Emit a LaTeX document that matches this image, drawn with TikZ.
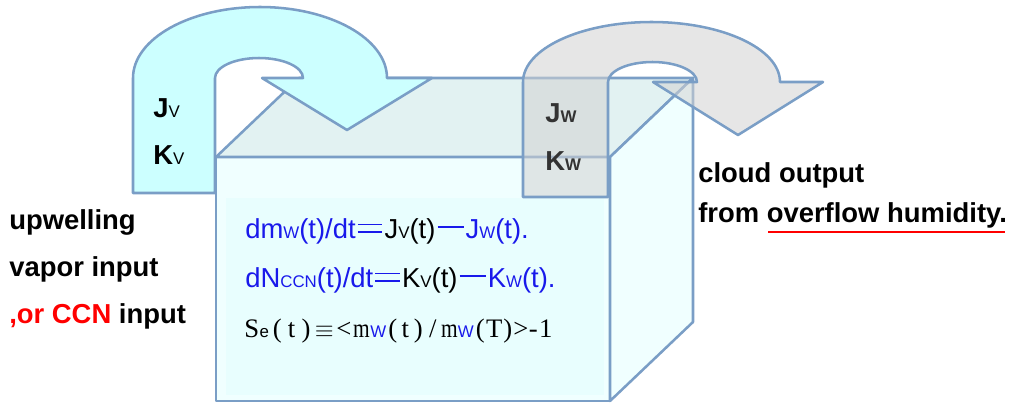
\documentclass[tikz,border=0pt]{standalone}
\usepackage{fontspec}
\usepackage{graphicx}
\setmainfont{Liberation Sans}
\newfontfamily\serifface{Liberation Serif}

\definecolor{edgeblue}{RGB}{122,158,198}
\definecolor{flowcyan}{RGB}{204,255,255}
\definecolor{flowgray}{RGB}{210,210,210}
\definecolor{topface}{RGB}{226,242,242}
\definecolor{frontface}{RGB}{240,255,255}
\definecolor{sideface}{RGB}{240,255,255}
\definecolor{textarea}{RGB}{232,254,254}
\definecolor{eqblue}{RGB}{25,25,235}

\newlength{\pxu}
\setlength{\pxu}{0.7113pt}
% small index sitting on the baseline
\newcommand{\lowsub}[1]{\raisebox{-0.6pt}{\normalfont\fontsize{12}{12}\selectfont #1}}
% wide equal and minus signs
\newcommand{\weq}{\hspace{1.5pt}\rlap{\rule[0.46em]{0.9em}{0.06em}}\rule[0.2em]{0.9em}{0.06em}\hspace{1.5pt}}
\newcommand{\wminus}{\hspace{1.5pt}\rule[0.36em]{0.95em}{0.06em}\hspace{1.5pt}}
% one fixed-width cell, and a narrow m
\newcommand{\mc}[2]{\makebox[#1\pxu][c]{#2}}
\newcommand{\thinm}{\scalebox{0.8}[1]{m}}

\begin{document}
\begin{tikzpicture}[x=0.025cm, y=-0.025cm,
    flow/.style={draw=edgeblue, line width=1.8pt, line join=round},
    face/.style={draw=edgeblue, line width=1.8pt, line join=round},
    lbl/.style={anchor=base west, inner sep=0pt, font=\fontsize{19.5}{23}\selectfont\bfseries},
    eq/.style={anchor=base west, inner sep=0pt, font=\fontsize{19.5}{23}\selectfont, text=eqblue},
  ]
  \useasboundingbox (0,0) rectangle (1016,404);

  % the box
  \draw[face, fill=frontface] (216,157) rectangle (610,401);
  \fill[textarea] (226,198) rectangle (604,395);
  \draw[face, fill=topface] (216,157) -- (299,78) -- (693,78) -- (610,157) -- cycle;
  \draw[face, fill=sideface] (610,157) -- (693,78) -- (693,322) -- (610,401) -- cycle;

  % vapor in
  \draw[flow, fill=flowcyan] (133,193) -- (133,78)
    arc[start angle=180, end angle=360, x radius=127, y radius=71]
    -- (432,78) -- (347,130) -- (262,78) -- (303,78)
    arc[start angle=0, end angle=-180, x radius=44, y radius=20]
    -- (215,193) -- cycle;

  % cloud out
  \draw[flow, fill=flowgray, fill opacity=0.55] (523,197) -- (523,82)
    arc[start angle=180, end angle=360, x radius=128.5, y radius=60]
    -- (823,82) -- (738,135) -- (653,82) -- (697,82)
    arc[start angle=0, end angle=-180, x radius=44.5, y radius=20]
    -- (608,197) -- cycle;

  \node[lbl] (jv) at (153,117) {J\lowsub{V}};
  \node[lbl] (kv) at (153,164) {K\lowsub{V}};
  \node[lbl, text=black!80] (jw) at (545,122) {J\lowsub{\bfseries W}};
  \node[lbl, text=black!80] (kw) at (545,170) {K\lowsub{\bfseries W}};

  \node[lbl] (upw) at (9,229) {upwelling};
  \node[lbl] (vapor) at (9,276) {vapor input};
  \node[lbl] (ccn) at (9,323) {\textcolor{red}{,or CCN} input};

  \node[lbl] (outa) at (698,182) {cloud output};
  \node[lbl] (outb) at (698,222) {from overflow humidity.};
  \draw[red, line width=1.1pt] (768,232) -- (1005,232);

  \node[eq] (eqm) at (245,238) {dm\lowsub{W}(t)/dt\weq\textcolor{black}{J\lowsub{V}(t)}\wminus J\lowsub{W}(t).};
  \node[eq] (eqn) at (245,287) {dN\lowsub{CCN}(t)/dt\weq\textcolor{black}{K\lowsub{V}(t)}\wminus K\lowsub{W}(t).};
  \node[eq, text=black, font=\fontsize{19}{23}\selectfont\serifface] (eqs) at (245,337)
    {\mc{13}{S}\mc{12}{\lowsub{e}}\mc{14}{(}\mc{14.5}{t}\mc{14.5}{)}\mc{22}{$\equiv$}\mc{17}{<}%
     \mc{18}{\thinm}\mc{16}{\textcolor{eqblue}{\lowsub{W}}}\mc{13}{(}\mc{12}{t}\mc{14}{)}\mc{15}{/}%
     \mc{18}{\thinm}\mc{15}{\textcolor{eqblue}{\lowsub{W}}}\mc{14}{(}\mc{14}{T}\mc{13}{)}\mc{13}{>}\mc{12}{-}\mc{13}{1}};
\end{tikzpicture}
\end{document}
